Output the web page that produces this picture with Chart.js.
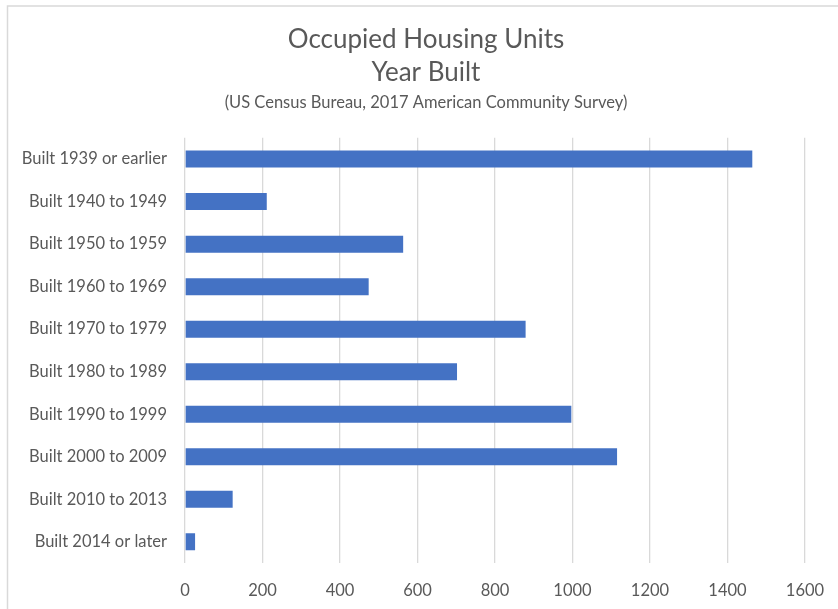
<!DOCTYPE html>
<html>
<head>
<meta charset="utf-8">
<script src="https://cdn.jsdelivr.net/npm/chart.js@4/dist/chart.umd.min.js"></script>
<style>
  html, body { margin: 0; padding: 0; background: #fff; }
  #wrap { width: 838px; height: 609px; position: relative; }
</style>
</head>
<body>
<div id="wrap"><canvas id="housingChart" width="838" height="609"></canvas></div>
<script>
// Year built categories and occupied housing units
var yearLabels = ["Built 1939 or earlier", "Built 1940 to 1949", "Built 1950 to 1959", "Built 1960 to 1969",
  "Built 1970 to 1979", "Built 1980 to 1989", "Built 1990 to 1999", "Built 2000 to 2009",
  "Built 2010 to 2013", "Built 2014 or later"];
var unitValues = [1464, 211, 563, 474, 879, 702, 997, 1115, 123, 26];
var xTicks = [0, 200, 400, 600, 800, 1000, 1200, 1400, 1600];

var textColor = '#595959';
var fontName = 'Lato, "Open Sans", sans-serif';

// light frame along the top and left edges
var framePlugin = {
  id: 'frame',
  beforeDraw: function(chart) {
    var ctx = chart.ctx;
    ctx.save();
    ctx.strokeStyle = '#d9d9d9';
    ctx.lineWidth = 1.5;
    ctx.beginPath();
    ctx.moveTo(7.5, 609);
    ctx.lineTo(7.5, 6);
    ctx.lineTo(838, 6);
    ctx.stroke();
    ctx.restore();
  }
};

new Chart(document.getElementById('housingChart'), {
  type: 'bar',
  data: {
    labels: yearLabels,
    datasets: [{
      data: unitValues,
      backgroundColor: '#4472C4',
      borderWidth: 0,
      barPercentage: 0.8,
      categoryPercentage: 0.5
    }]
  },
  plugins: [framePlugin],
  options: {
    indexAxis: 'y',
    responsive: false,
    animation: false,
    devicePixelRatio: 1,
    layout: { padding: { top: 6, right: 33, bottom: 0, left: 47 } },
    plugins: {
      legend: { display: false },
      tooltip: { enabled: false },
      title: {
        display: true,
        text: ['Occupied Housing Units', 'Year Built'],
        color: textColor,
        font: { family: fontName, size: 26, weight: 'normal', lineHeight: 1.27 },
        padding: { top: 17, bottom: 4 }
      },
      subtitle: {
        display: true,
        text: '(US Census Bureau, 2017 American Community Survey)',
        color: textColor,
        font: { family: fontName, size: 16.5, weight: 'normal', lineHeight: 1.2 },
        padding: { top: 0, bottom: 25 }
      }
    },
    scales: {
      x: {
        min: 0,
        max: 1600,
        afterBuildTicks: function(scale) {
          scale.ticks = xTicks.map(function(v) { return { value: v }; });
        },
        afterFit: function(scale) {
          scale.height = 46;
          scale.paddingLeft = 0;
          scale.paddingRight = 0;
        },
        grid: { color: '#d9d9d9', lineWidth: 1.3, drawTicks: false },
        border: { display: false },
        ticks: {
          color: textColor,
          font: { family: fontName, size: 16.5 },
          padding: 18,
          callback: function(value) { return String(value); }
        }
      },
      y: {
        afterFit: function(scale) {
          scale.width = 138;
          // let the long category labels run into the left padding
          scale._computeLabelArea = function() { return undefined; };
        },
        grid: { display: false, drawTicks: false },
        border: { display: false },
        ticks: { color: textColor, font: { family: fontName, size: 16.5 }, padding: 18 }
      }
    }
  }
});
</script>
</body>
</html>
